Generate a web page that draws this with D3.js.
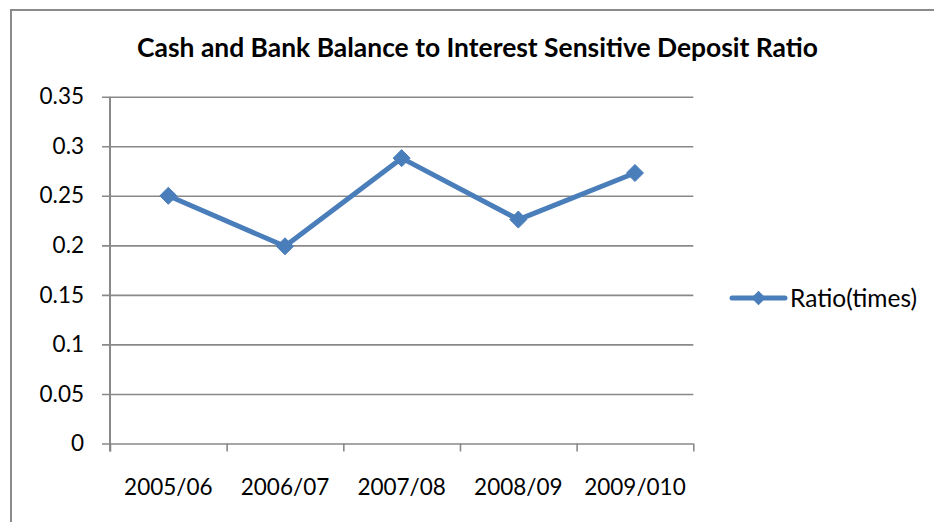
<!DOCTYPE html>
<html>
<head>
<meta charset="utf-8">
<script src="https://cdn.jsdelivr.net/npm/d3@7"></script>
<style>
  html, body { margin: 0; padding: 0; background: #fff; }
  svg { display: block; font-family: Lato, "Open Sans", sans-serif; }
</style>
</head>
<body>
<svg id="chart" width="934" height="522"></svg>
<script>
// Chart data
const categories = ["2005/06", "2006/07", "2007/08", "2008/09", "2009/010"];
const ratioValues = [0.25, 0.199, 0.288, 0.226, 0.273];
const yTickValues = [0, 0.05, 0.1, 0.15, 0.2, 0.25, 0.3, 0.35];
const seriesName = "Ratio(times)";
const titleText = "Cash and Bank Balance to Interest Sensitive Deposit Ratio";

const lineColor = "#4a7ebb";
const gridColor = "#898989";

const svg = d3.select("#chart");

// Outer chart frame (left and top edges visible)
svg.append("path")
  .attr("d", "M11,522 V10 H934")
  .attr("fill", "none")
  .attr("stroke", "#8a8a8a")
  .attr("stroke-width", 2);

// Plot geometry
const plot = { left: 110, right: 693.3, top: 96.7, bottom: 443.5 };

const y = d3.scaleLinear().domain([0, 0.35]).range([plot.bottom, plot.top]);
const x = d3.scaleBand().domain(categories).range([plot.left, plot.right]).padding(0);
const xEdge = d3.scaleLinear().domain([0, categories.length]).range([plot.left, plot.right]);

// Horizontal gridlines + y tick labels
const yAxis = svg.append("g")
  .attr("transform", `translate(${plot.left - 8},0)`)
  .call(d3.axisLeft(y)
    .tickValues(yTickValues)
    .tickFormat(d => d3.format("")(+d.toFixed(2)))
    .tickSize(-(plot.right - plot.left + 8))
    .tickPadding(18));
yAxis.select(".domain").remove();
yAxis.selectAll(".tick line").attr("stroke", gridColor).attr("stroke-width", 1.6);
yAxis.selectAll(".tick text")
  .attr("fill", "#000")
  .style("font-size", "22.5px")
  .style("font-family", "Lato, 'Open Sans', sans-serif");

// Category tick marks on the baseline
const xTicks = svg.append("g")
  .attr("transform", `translate(0,${plot.bottom})`)
  .call(d3.axisBottom(xEdge)
    .tickValues(d3.range(categories.length + 1))
    .tickFormat("")
    .tickSize(8));
xTicks.select(".domain").remove();
xTicks.selectAll(".tick line").attr("stroke", gridColor).attr("stroke-width", 1.6);

// Vertical value axis line
svg.append("line")
  .attr("x1", plot.left).attr("x2", plot.left)
  .attr("y1", plot.top).attr("y2", plot.bottom + 8)
  .attr("stroke", gridColor)
  .attr("stroke-width", 2);

// Category labels
const xLabels = svg.append("g")
  .attr("transform", `translate(0,${plot.bottom})`)
  .call(d3.axisBottom(x).tickSize(0).tickPadding(36));
xLabels.select(".domain").remove();
xLabels.selectAll(".tick text")
  .attr("fill", "#000")
  .style("font-size", "22.5px")
  .style("font-family", "Lato, 'Open Sans', sans-serif");

// Series line
const pts = categories.map((c, i) => [x(c) + x.bandwidth() / 2, y(ratioValues[i])]);
svg.append("path")
  .attr("d", d3.line()(pts))
  .attr("fill", "none")
  .attr("stroke", lineColor)
  .attr("stroke-width", 5)
  .attr("stroke-linejoin", "round");

// Diamond markers
const diamond = d3.symbol().type(d3.symbolDiamond2).size(185);
svg.append("g").selectAll("path")
  .data(pts)
  .join("path")
  .attr("transform", d => `translate(${d[0]},${d[1]})`)
  .attr("d", diamond)
  .attr("fill", lineColor)
  .attr("stroke", lineColor)
  .attr("stroke-width", 1);

// Title, sized to its span
const title = svg.append("text")
  .attr("x", 477.5)
  .attr("y", 57)
  .attr("text-anchor", "middle")
  .attr("font-weight", "bold")
  .style("font-size", "26px")
  .text(titleText);
const tw = title.node().getComputedTextLength();
title.style("font-size", (26 * 681 / tw).toFixed(2) + "px");

// Legend
const legend = svg.append("g").attr("transform", "translate(732,298)");
legend.append("line")
  .attr("x1", 0).attr("x2", 53)
  .attr("y1", 0).attr("y2", 0)
  .attr("stroke", lineColor)
  .attr("stroke-width", 5)
  .attr("stroke-linecap", "round");
legend.append("path")
  .attr("transform", "translate(26.5,0)")
  .attr("d", d3.symbol().type(d3.symbolDiamond2).size(130)())
  .attr("fill", lineColor);
legend.append("text")
  .attr("x", 58)
  .attr("y", 0)
  .attr("dy", "0.35em")
  .attr("fill", "#000")
  .style("font-size", "24.5px")
  .text(seriesName);
</script>
</body>
</html>
